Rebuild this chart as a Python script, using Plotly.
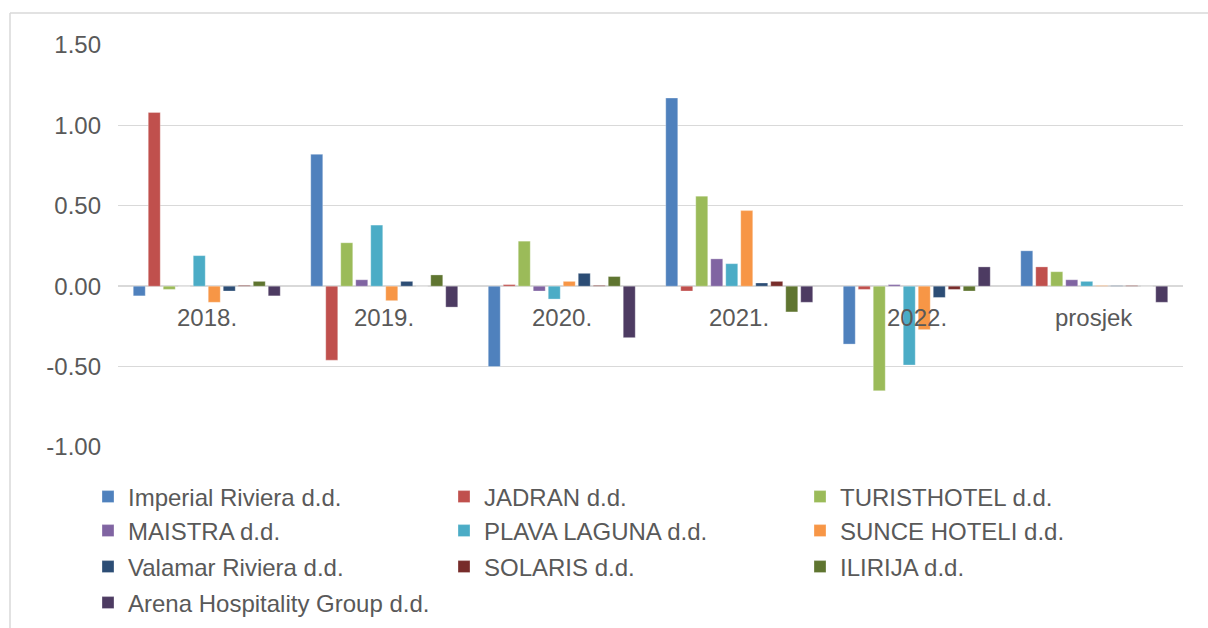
import plotly.graph_objects as go

categories = ["2018.", "2019.", "2020.", "2021.", "2022.", "prosjek"]

series_names = [
    "Imperial Riviera d.d.", "JADRAN d.d.", "TURISTHOTEL d.d.",
    "MAISTRA d.d.", "PLAVA LAGUNA d.d.", "SUNCE HOTELI d.d.",
    "Valamar Riviera d.d.", "SOLARIS d.d.", "ILIRIJA d.d.",
    "Arena Hospitality Group d.d.",
]

imperial = [-0.06, 0.82, -0.50, 1.17, -0.36, 0.22]
jadran = [1.08, -0.46, 0.01, -0.03, -0.02, 0.12]
turisthotel = [-0.02, 0.27, 0.28, 0.56, -0.65, 0.09]
maistra = [0.00, 0.04, -0.03, 0.17, 0.01, 0.04]
plava = [0.19, 0.38, -0.08, 0.14, -0.49, 0.03]
sunce = [-0.10, -0.09, 0.03, 0.47, -0.27, 0.004]
valamar = [-0.03, 0.03, 0.08, 0.02, -0.07, 0.003]
solaris = [0.005, 0.0, 0.005, 0.03, -0.02, 0.004]
ilirija = [0.03, 0.07, 0.06, -0.16, -0.03, 0.0]
arena = [-0.06, -0.13, -0.32, -0.10, 0.12, -0.10]

series_values = [imperial, jadran, turisthotel, maistra, plava,
                 sunce, valamar, solaris, ilirija, arena]

colors = ["#4F81BD", "#C0504D", "#9BBB59", "#8064A2", "#4BACC6",
          "#F79646", "#2C4D75", "#772C2A", "#5F7530", "#4D3B62"]

y_ticks = [1.5, 1.0, 0.5, 0.0, -0.5, -1.0]
y_tick_labels = ["1.50", "1.00", "0.50", "0.00", "-0.50", "-1.00"]

FONT = "Liberation Sans, Arial, sans-serif"
TXT = "#595959"
FS = 24

# plot area in pixels
W, H = 1208, 628
L, R, T, B = 118, 1183, 45, 447

def px_x(p):
    return (p - L) / (R - L)

def px_y(p):
    return (B - p) / (B - T)

legend_rows = [[0, 1, 2], [3, 4, 5], [6, 7, 8], [9]]
row_y = [497, 531, 567, 603]
legend_ids = ["legend", "legend2", "legend3", "legend4"]

fig = go.Figure()
for i, (name, vals, col) in enumerate(zip(series_names, series_values, colors)):
    row = [r for r, items in enumerate(legend_rows) if i in items][0]
    fig.add_trace(go.Bar(
        x=categories, y=vals, name=name,
        marker=dict(color=col, line=dict(color="rgba(255,255,255,0.6)", width=0.5)),
        legend=legend_ids[row],
    ))

for idx, c in enumerate(categories):
    fig.add_annotation(x=idx, y=0, xref="x", yref="y", text=c, showarrow=False,
                       yshift=-31, font=dict(family=FONT, size=FS, color=TXT))

layout_legends = {}
for r, lid in enumerate(legend_ids):
    layout_legends[lid] = dict(
        orientation="h", x=px_x(88), y=px_y(row_y[r]), xanchor="left", yanchor="middle",
        entrywidth=311, entrywidthmode="pixels", itemwidth=30,
        font=dict(family=FONT, size=FS, color=TXT), bgcolor="rgba(0,0,0,0)",
        traceorder="normal",
    )

fig.update_layout(
    width=W, height=H, autosize=False,
    margin=dict(l=L, r=W - R, t=T, b=H - B, pad=0, autoexpand=False),
    paper_bgcolor="white", plot_bgcolor="white",
    barmode="group", bargap=0.155, bargroupgap=0.2,
    showlegend=True,
    font=dict(family=FONT, size=FS, color=TXT),
    **layout_legends,
)

fig.update_xaxes(type="category", range=[-0.5, 5.5], showticklabels=False, showgrid=False,
                 zeroline=False, showline=False, ticks="", automargin=False)
fig.update_yaxes(range=[-1.0, 1.5], tickvals=y_ticks, ticktext=y_tick_labels,
                 showgrid=True, gridcolor="#D9D9D9", gridwidth=1.3,
                 zeroline=True, zerolinecolor="#D9D9D9", zerolinewidth=1.6,
                 showline=False, ticks="", ticklabelstandoff=16, automargin=False,
                 tickfont=dict(family=FONT, size=FS, color=TXT))

# chart outer border (top and left)
fig.add_shape(type="line", xref="paper", yref="paper",
              x0=px_x(10), x1=px_x(1208), y0=px_y(13), y1=px_y(13),
              line=dict(color="#D9D9D9", width=1.5))
fig.add_shape(type="line", xref="paper", yref="paper",
              x0=px_x(10), x1=px_x(10), y0=px_y(13), y1=px_y(628),
              line=dict(color="#D9D9D9", width=1.5))

fig.write_html("out.html",
               config={"displayModeBar": False, "responsive": False},
               post_script="document.body.style.margin='0';document.body.style.padding='0';"
                           "document.body.style.overflow='hidden';"
                           "document.documentElement.style.overflow='hidden';")
